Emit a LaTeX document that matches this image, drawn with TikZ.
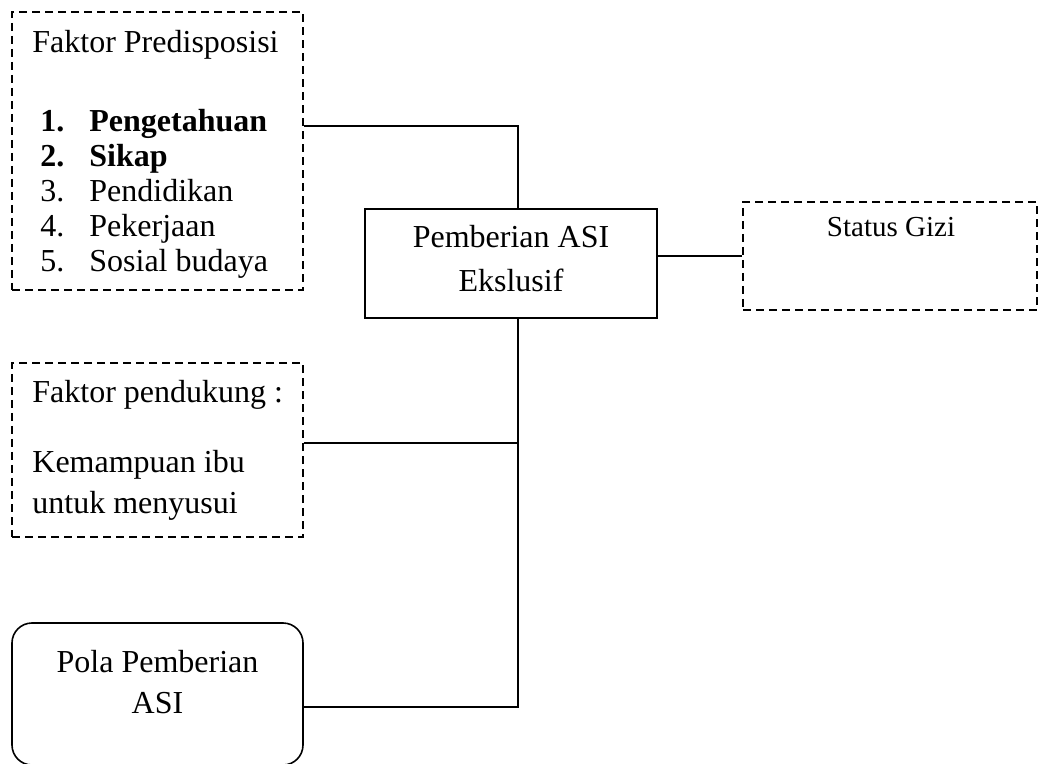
\documentclass[tikz,border=0pt]{standalone}
\usepackage{fontspec}
\setmainfont{Liberation Serif}
\usepackage{tikz}

\tikzset{
  dashbox/.style={draw, dashed, dash pattern=on 4pt off 2.5pt, line width=0.7pt,
    inner sep=0pt, rectangle},
  solidbox/.style={draw, line width=0.8pt, inner sep=0pt, rectangle},
  txt/.style={inner sep=0pt, anchor=base west, font=\fontsize{16}{18}\selectfont},
  ctxt/.style={inner sep=0pt, anchor=base, font=\fontsize{16}{18}\selectfont},
  link/.style={line width=0.8pt}
}

\begin{document}
\begin{tikzpicture}[x=0.5pt, y=-0.5pt]
  \useasboundingbox (0,0) rectangle (1038,764);

  % boxes
  \node[dashbox, minimum width=145.5pt, minimum height=139pt] (pred) at (157.5,151) {};
  \node[dashbox, minimum width=145.5pt, minimum height=87pt]  (dukung) at (157.5,450) {};
  \node[draw, line width=0.8pt, rounded corners=10pt, minimum width=145.5pt,
        minimum height=71pt, inner sep=0pt] (pola) at (157.5,694) {};
  \node[solidbox, minimum width=146pt, minimum height=54.5pt] (asi) at (511,263.5) {};
  \node[dashbox, minimum width=147pt, minimum height=54pt] (gizi) at (890,256) {};

  % texts
  \node[txt] (predT) at (32,53) {Faktor Predisposisi};
  \node[txt] (p1) at (40,132) {\textbf{\makebox[24.5pt][l]{1.}Pengetahuan}};
  \node[txt] (p2) at (40,167) {\textbf{\makebox[24.5pt][l]{2.}Sikap}};
  \node[txt] (p3) at (40,202) {\makebox[24.5pt][l]{3.}Pendidikan};
  \node[txt] (p4) at (40,237) {\makebox[24.5pt][l]{4.}Pekerjaan};
  \node[txt] (p5) at (40,272) {\makebox[24.5pt][l]{5.}Sosial budaya};

  \node[txt] (dukT) at (32,402) {Faktor pendukung :};
  \node[txt] (d1) at (32,472) {Kemampuan ibu};
  \node[txt] (d2) at (32,513) {untuk menyusui};

  \node[ctxt] (asi1) at (511,248) {Pemberian ASI};
  \node[ctxt] (asi2) at (511,292) {Ekslusif};

  \node[ctxt] (polaT1) at (157.5,672) {Pola Pemberian};
  \node[ctxt] (polaT2) at (157.5,713) {ASI};

  \node[ctxt, font=\fontsize{14.5}{17}\selectfont] (giziT) at (891,237) {Status Gizi};

  % connectors
  \coordinate (j1) at (518,126);
  \coordinate (j2) at (518,443);
  \coordinate (j3) at (518,707);
  \draw[link] (pred.east |- j1) -- (j1) -- (j1 |- asi.north);
  \draw[link] (j1 |- asi.south) -- (j3) -- (pola.east |- j3);
  \draw[link] (dukung.east |- j2) -- (j2);
  \draw[link] (asi.east |- gizi.west) -- (gizi.west);
\end{tikzpicture}
\end{document}
